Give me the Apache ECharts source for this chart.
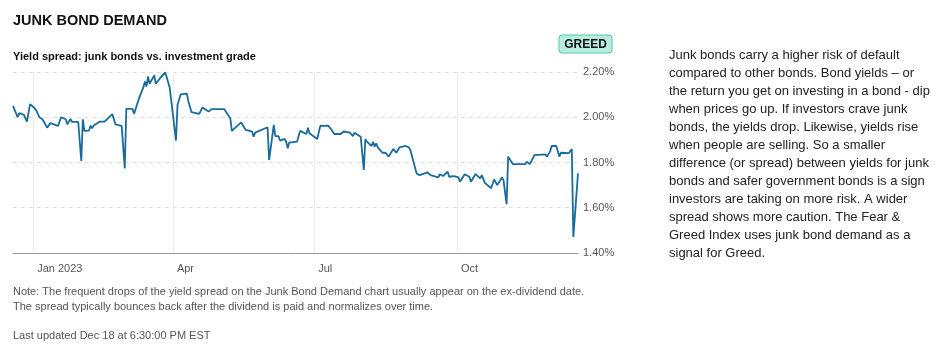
<!DOCTYPE html>
<html>
<head>
<meta charset="utf-8">
<script src="https://cdn.jsdelivr.net/npm/echarts@6/dist/echarts.min.js"></script>
<style>
  html, body { margin: 0; padding: 0; background: #fff; }
  #chart { width: 946px; height: 351px; }
</style>
</head>
<body>
<div id="chart"></div>
<script>
// yield spread, junk bonds vs investment grade (%)
const dates = [
  '2022-12-19', '2022-12-22', '2022-12-23', '2022-12-26', '2022-12-27', '2022-12-28', '2022-12-30',
  '2023-01-02', '2023-01-03', '2023-01-05', '2023-01-07', '2023-01-10', '2023-01-12', '2023-01-17',
  '2023-01-19', '2023-01-22', '2023-01-23', '2023-01-25', '2023-01-26', '2023-01-30', '2023-01-31',
  '2023-02-01', '2023-02-02', '2023-02-03', '2023-02-06', '2023-02-07', '2023-02-08', '2023-02-09',
  '2023-02-13', '2023-02-16', '2023-02-21', '2023-02-23', '2023-02-27', '2023-03-01', '2023-03-02',
  '2023-03-06', '2023-03-07', '2023-03-10', '2023-03-13', '2023-03-14', '2023-03-15', '2023-03-16',
  '2023-03-17', '2023-03-20', '2023-03-21', '2023-03-23', '2023-03-27', '2023-03-28', '2023-03-30',
  '2023-04-03', '2023-04-04', '2023-04-06', '2023-04-10', '2023-04-11', '2023-04-13', '2023-04-18',
  '2023-04-20', '2023-04-24', '2023-04-26', '2023-05-04', '2023-05-08', '2023-05-09', '2023-05-15',
  '2023-05-18', '2023-05-22', '2023-05-23', '2023-05-24', '2023-06-01', '2023-06-02', '2023-06-05',
  '2023-06-06', '2023-06-08', '2023-06-09', '2023-06-12', '2023-06-13', '2023-06-14', '2023-06-15',
  '2023-06-20', '2023-06-22', '2023-06-26', '2023-06-27', '2023-06-28', '2023-07-03', '2023-07-05',
  '2023-07-07', '2023-07-10', '2023-07-12', '2023-07-14', '2023-07-18', '2023-07-20', '2023-07-24',
  '2023-07-26', '2023-07-27', '2023-07-31', '2023-08-02', '2023-08-03', '2023-08-04', '2023-08-07',
  '2023-08-08', '2023-08-09', '2023-08-10', '2023-08-11', '2023-08-14', '2023-08-16', '2023-08-18',
  '2023-08-21', '2023-08-23', '2023-08-25', '2023-08-29', '2023-08-31', '2023-09-01', '2023-09-05',
  '2023-09-07', '2023-09-08', '2023-09-12', '2023-09-14', '2023-09-15', '2023-09-19', '2023-09-20',
  '2023-09-22', '2023-09-25', '2023-09-26', '2023-09-29', '2023-10-02', '2023-10-03', '2023-10-04',
  '2023-10-06', '2023-10-09', '2023-10-10', '2023-10-13', '2023-10-16', '2023-10-17', '2023-10-19',
  '2023-10-23', '2023-10-25', '2023-10-27', '2023-10-30', '2023-10-31', '2023-11-02', '2023-11-03',
  '2023-11-06', '2023-11-14', '2023-11-15', '2023-11-17', '2023-11-20', '2023-11-27', '2023-11-28',
  '2023-11-30', '2023-12-01', '2023-12-04', '2023-12-06', '2023-12-07', '2023-12-12', '2023-12-14',
  '2023-12-15', '2023-12-18'
];
const spread = [
  2.05, 2.00, 2.018, 2.011, 2.003, 1.981, 2.058,
  2.04, 2.03, 2.00, 1.991, 1.954, 1.974, 1.962,
  2.00, 1.991, 1.969, 1.993, 1.98, 1.98, 1.988,
  1.807, 1.991, 1.94, 1.941, 1.963, 1.951, 1.963,
  1.981, 1.981, 2.014, 1.969, 1.962, 1.774, 2.037,
  2.037, 2.015, 2.08, 2.133, 2.158, 2.136, 2.18,
  2.148, 2.185, 2.148, 2.166, 2.198, 2.178, 2.129,
  1.897, 2.055, 2.101, 2.104, 2.07, 2.023, 2.015,
  2.043, 2.025, 2.036, 2.036, 1.996, 1.94, 1.977,
  1.944, 1.937, 1.914, 1.932, 1.956, 1.811, 1.966,
  1.917, 1.917, 1.897, 1.904, 1.892, 1.863, 1.888,
  1.892, 1.94, 1.926, 1.954, 1.929, 1.904, 1.963,
  1.962, 1.963, 1.947, 1.926, 1.926, 1.937, 1.932,
  1.917, 1.932, 1.914, 1.767, 1.903, 1.892, 1.873,
  1.892, 1.87, 1.885, 1.867, 1.843, 1.843, 1.826,
  1.86, 1.843, 1.867, 1.873, 1.867, 1.855, 1.752,
  1.744, 1.752, 1.756, 1.744, 1.749, 1.734, 1.748,
  1.74, 1.759, 1.737, 1.74, 1.734, 1.715, 1.722,
  1.748, 1.737, 1.715, 1.749, 1.73, 1.744, 1.71,
  1.686, 1.725, 1.70, 1.734, 1.722, 1.616, 1.826,
  1.793, 1.793, 1.803, 1.793, 1.833, 1.836, 1.826,
  1.848, 1.873, 1.873, 1.826, 1.843, 1.841, 1.859,
  1.471, 1.752
];
const tickDates = ['2023-01-01', '2023-04-01', '2023-07-01', '2023-10-01'];
const tickLabels = ['Jan 2023', 'Apr', 'Jul', 'Oct'];

const noteLines = [
  'Note: The frequent drops of the yield spread on the Junk Bond Demand chart usually appear on the ex-dividend date.',
  'The spread typically bounces back after the dividend is paid and normalizes over time.'
];
const updated = 'Last updated Dec 18 at 6:30:00 PM EST';
const sideText = [
  'Junk bonds carry a higher risk of default',
  'compared to other bonds. Bond yields \u2013 or',
  'the return you get on investing in a bond - dip',
  'when prices go up. If investors crave junk',
  'bonds, the yields drop. Likewise, yields rise',
  'when people are selling. So a smaller',
  'difference (or spread) between yields for junk',
  'bonds and safer government bonds is a sign',
  'investors are taking on more risk. A wider',
  'spread shows more caution. The Fear &',
  'Greed Index uses junk bond demand as a',
  'signal for Greed.'
];

const FONT = '"Liberation Sans", Arial, sans-serif';

function toTime(s) {
  const p = s.split('-').map(Number);
  return Date.UTC(p[0], p[1] - 1, p[2]);
}

const tickTimes = tickDates.map(toTime);
const seriesData = dates.map((d, i) => [toTime(d), spread[i]]);

const chart = echarts.init(document.getElementById('chart'), null, { renderer: 'canvas' });

chart.setOption({
  animation: false,
  backgroundColor: '#fff',
  textStyle: { fontFamily: FONT },
  grid: { left: 13, right: 368, top: 72, bottom: 98 },
  xAxis: {
    type: 'value',
    min: toTime(dates[0]),
    max: toTime(dates[dates.length - 1]),
    axisLine: { show: true, lineStyle: { color: '#9a9a9a', width: 1 } },
    axisTick: { show: false, customValues: tickTimes },
    axisLabel: {
      customValues: tickTimes,
      align: 'left',
      margin: 10,
      padding: [0, 0, 0, 4],
      color: '#555',
      fontSize: 11,
      fontFamily: FONT,
      formatter: v => {
        const i = tickTimes.indexOf(v);
        return i >= 0 ? tickLabels[i] : '';
      }
    },
    splitLine: { show: true, lineStyle: { color: '#ececec', width: 1 } }
  },
  yAxis: {
    type: 'value',
    position: 'right',
    min: 1.4,
    max: 2.2,
    interval: 0.2,
    axisLine: { show: false },
    axisTick: { show: false },
    axisLabel: {
      color: '#555',
      fontSize: 11,
      fontFamily: FONT,
      margin: 5,
      formatter: v => v.toFixed(2) + '%'
    },
    splitLine: { show: true, lineStyle: { color: '#dcdcdc', type: [4, 4] } }
  },
  series: [{
    type: 'line',
    data: seriesData,
    showSymbol: false,
    lineStyle: { color: '#196b9c', width: 1.8 },
    silent: true
  }],
  graphic: [
    {
      type: 'text', left: 13, top: 13,
      style: { text: 'JUNK BOND DEMAND', fontSize: 14.5, fontWeight: 'bold', fill: '#111', fontFamily: FONT }
    },
    {
      type: 'text', left: 13, top: 51,
      style: { text: 'Yield spread: junk bonds vs. investment grade', fontSize: 11, fontWeight: 'bold', fill: '#111', fontFamily: FONT }
    },
    {
      type: 'rect', shape: { x: 559, y: 35, width: 53, height: 18, r: 3 },
      style: { fill: '#b8ede2', stroke: '#4fc9a0', lineWidth: 1 }
    },
    {
      type: 'text', x: 585.5, y: 44.5,
      style: { text: 'GREED', fontSize: 12, fontWeight: 'bold', fill: '#111', fontFamily: FONT, align: 'center', verticalAlign: 'middle' }
    },
    {
      type: 'text', left: 13, top: 284,
      style: { text: noteLines.join('\n'), fontSize: 11, lineHeight: 15, fill: '#555', fontFamily: FONT }
    },
    {
      type: 'text', left: 13, top: 330,
      style: { text: updated, fontSize: 11, fill: '#555', fontFamily: FONT }
    },
    {
      type: 'text', left: 669, top: 46,
      style: { text: sideText.join('\n'), fontSize: 13, lineHeight: 18, fill: '#222', fontFamily: FONT }
    }
  ]
});
</script>
</body>
</html>
